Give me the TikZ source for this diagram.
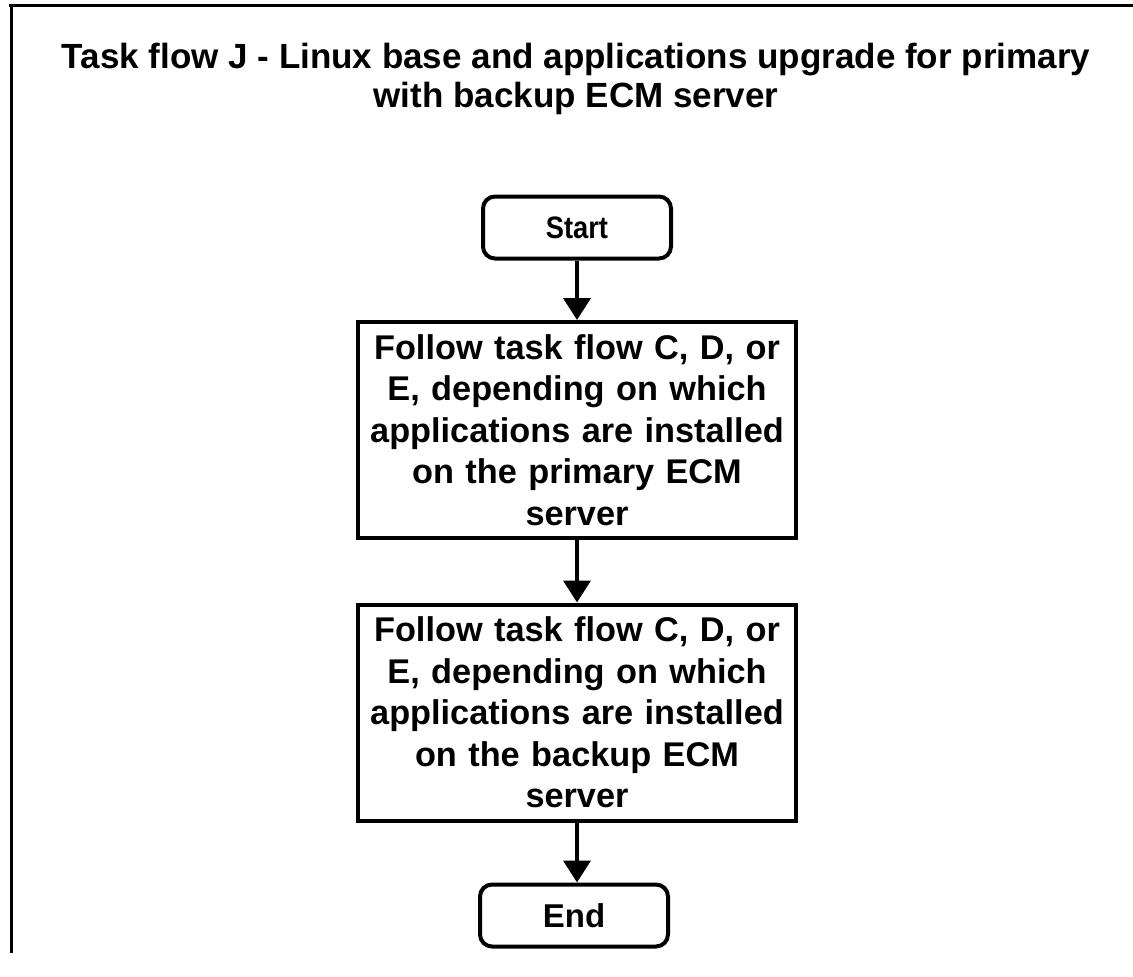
\documentclass[tikz,border=0pt]{standalone}
\usepackage{fontspec}
\setmainfont{Liberation Sans}
\usetikzlibrary{arrows.meta}
\begin{document}
\begin{tikzpicture}[x=1pt,y=-1pt,
  term/.style={draw, line width=4pt, rounded corners=12pt, minimum width=188pt, minimum height=62pt, inner sep=0pt, font=\bfseries\fontsize{31}{36}\selectfont},
  proc/.style={draw, line width=4pt, minimum width=438pt, minimum height=216pt, text width=434pt, align=center, inner sep=0pt, font=\bfseries\fontsize{34.3}{41.5}\selectfont},
  flow/.style={line width=4pt, -{Triangle[width=27pt,length=22pt]}}
]
\useasboundingbox (0,0) rectangle (1133,977);
\coordinate (fa) at (9,5.5);
\coordinate (fb) at (1133,5.5);
\coordinate (fc) at (11.5,7);
\coordinate (fd) at (11.5,953);
\draw[line width=3.2pt] (fa) -- (fb);
\draw[line width=3.2pt] (fc) -- (fd);
\node[align=center, font=\bfseries\fontsize{35}{39}\selectfont] (title) at (576,79) {Task flow J - Linux base and applications upgrade for primary\\with backup ECM server};
\node[term] (start) at (577,227.5) {\scalebox{0.88}[1]{Start}};
\node[proc] (p1) at (577,430) {Follow task flow C, D, or\\E, depending on which\\applications are installed\\on the primary ECM\\server};
\node[proc] (p2) at (577,712.5) {Follow task flow C, D, or\\E, depending on which\\applications are installed\\on the backup ECM\\server};
\node[term, font=\bfseries\fontsize{33}{38}\selectfont] (end) at (574,915.5) {End};
\draw[flow] (start) -- (p1);
\draw[flow] (p1) -- (p2);
\draw[flow] (p2) -- (p2 |- end.north);
\end{tikzpicture}
\end{document}
